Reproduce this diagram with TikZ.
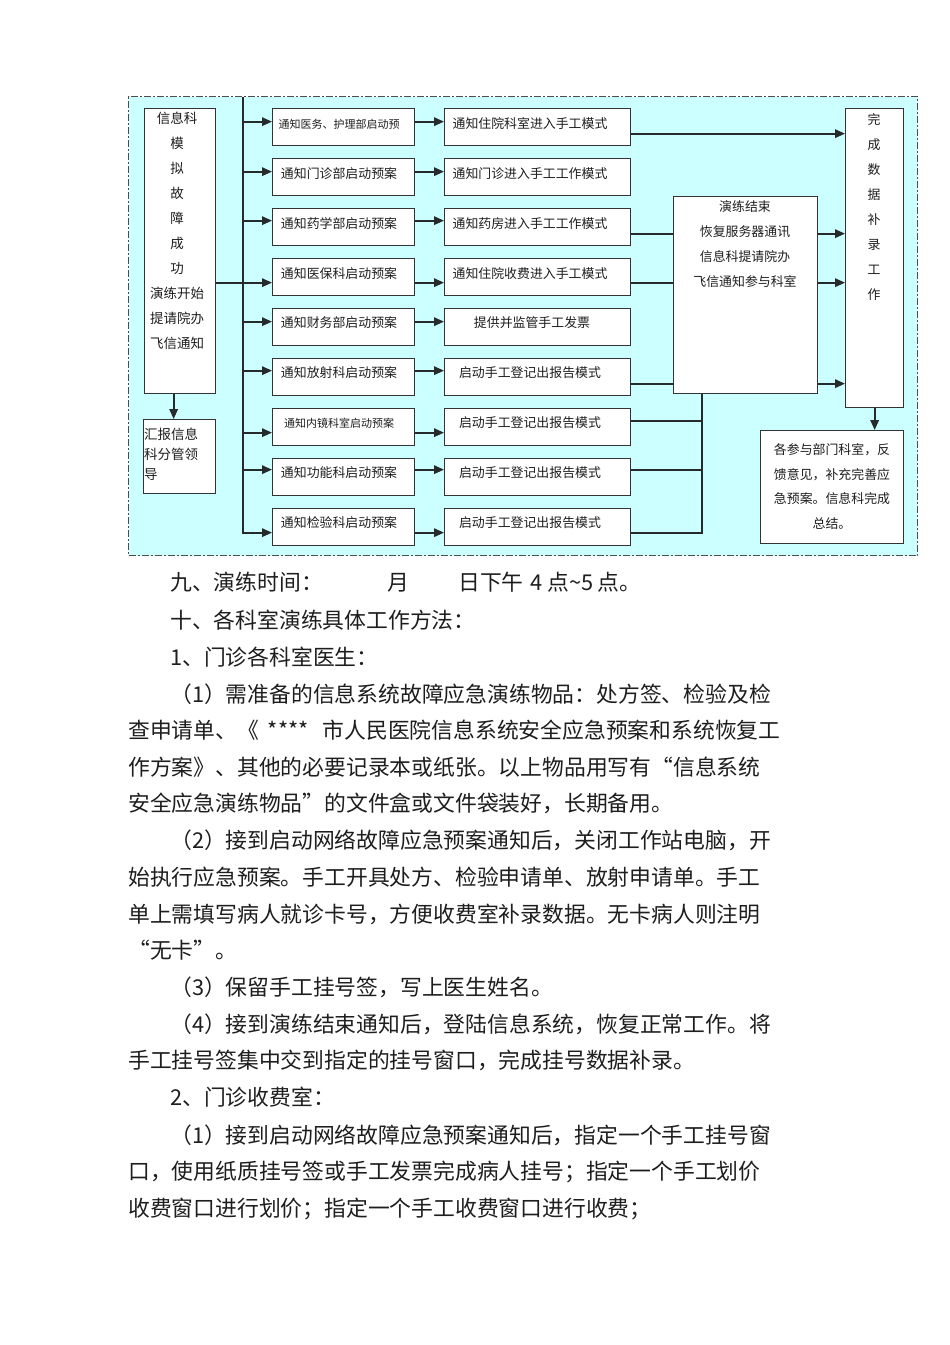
\documentclass[tikz,border=0pt]{standalone}
\usepackage{fontspec}
\setmainfont{Noto Sans CJK SC}
\usetikzlibrary{arrows.meta,calc}
\definecolor{frameC}{RGB}{204,255,255}
\definecolor{lineC}{RGB}{38,42,42}
\definecolor{txtC}{RGB}{30,30,30}
\begin{document}
\begin{tikzpicture}[x=1pt,y=-1pt,
  box/.style={draw=black!80, line width=1.3pt, fill=white, inner sep=0pt, anchor=north west},
  ft/.style={inner sep=0pt, text=txtC, font=\fontsize{12.9}{14}\selectfont, text height=11.35pt, text depth=1.55pt},
  ftsmall/.style={inner sep=0pt, text=txtC, font=\fontsize{11}{12}\selectfont, text height=9.7pt, text depth=1.3pt},
  ftbig/.style={inner sep=0pt, text=txtC, font=\fontsize{13.5}{15}\selectfont, text height=11.9pt, text depth=1.6pt},
  ln/.style={draw=lineC, line width=1.7pt},
  arr/.style={ln, -{Triangle[length=10pt,width=8.5pt]}},
  body/.style={anchor=west, inner sep=0pt, text=txtC, font=\fontsize{21.8}{24}\selectfont, text height=19.2pt, text depth=2.6pt}
]
\useasboundingbox (0,0) rectangle (950,1345);
\fill[white] (0,0) rectangle (950,1345);

% frame
\node[draw=black!70, fill=frameC, line width=1.1pt, dash pattern=on 7pt off 2pt on 2pt off 2pt,
      minimum width=789pt, minimum height=459pt, inner sep=0pt, anchor=north west] (frame) at (128,96) {};

% source box
\node[box, minimum width=71pt, minimum height=285pt] (src) at (144,108) {};
\foreach \t [count=\i] in {信息科,模,拟,故,障,成,功,演练开始,提请院办,飞信通知}
  \node[ftbig] (st\i) at (177,{118+25*(\i-1)}) {\t};

% report box
\node[box, minimum width=72pt, minimum height=74pt] (rep) at (143,419) {};
\node[ftbig, anchor=west] (rt1) at (144,434) {汇报信息};
\node[ftbig, anchor=west] (rt2) at (144,454) {科分管领};
\node[ftbig, anchor=west] (rt3) at (144,474) {导};

% rows
\foreach \i in {1,...,9} {
  \node[box, minimum width=142pt, minimum height=37pt] (L\i) at (272,{108+50*(\i-1)}) {};
  \node[box, minimum width=186pt, minimum height=37pt] (R\i) at (444,{108+50*(\i-1)}) {};
}
\node[ftsmall] (lt1) at (339,124) {通知医务、护理部启动预};
\node[ft] (lt2) at (339,174) {通知门诊部启动预案};
\node[ft] (lt3) at (339,224) {通知药学部启动预案};
\node[ft] (lt4) at (339,274) {通知医保科启动预案};
\node[ft] (lt5) at (339,323) {通知财务部启动预案};
\node[ft] (lt6) at (339,373) {通知放射科启动预案};
\node[ftsmall] (lt7) at (339,423) {通知内镜科室启动预案};
\node[ft] (lt8) at (339,473) {通知功能科启动预案};
\node[ft] (lt9) at (339,523) {通知检验科启动预案};

\node[ft] (rt1) at (530,124) {通知住院科室进入手工模式};
\node[ft] (rt2) at (530,174) {通知门诊进入手工工作模式};
\node[ft] (rt3) at (530,224) {通知药房进入手工工作模式};
\node[ft] (rt4) at (530,274) {通知住院收费进入手工模式};
\node[ft] (rt5) at (532,323) {提供并监管手工发票};
\node[ft] (rt6) at (530,373) {启动手工登记出报告模式};
\node[ft] (rt7) at (530,423) {启动手工登记出报告模式};
\node[ft] (rt8) at (530,473) {启动手工登记出报告模式};
\node[ft] (rt9) at (530,523) {启动手工登记出报告模式};

% end box
\node[box, minimum width=144pt, minimum height=197pt] (endb) at (673,196) {};
\foreach \t [count=\i] in {演练结束,恢复服务器通讯,信息科提请院办,飞信通知参与科室}
  \node[ft] (et\i) at (745,{207+25*(\i-1)}) {\t};

% done box
\node[box, minimum width=58pt, minimum height=299pt] (done) at (845,108) {};
\foreach \t [count=\i] in {完,成,数,据,补,录,工,作}
  \node[ft] (dt\i) at (874,{120+24.9*(\i-1)}) {\t};

% final box
\node[box, minimum width=143pt, minimum height=113pt] (final) at (760,430) {};
\foreach \t [count=\i] in {各参与部门科室，反,馈意见，补充完善应,急预案。信息科完成,总结。}
  \node[ft] (ft\i) at (832,{450+24.4*(\i-1)}) {\t};

% connectors
\coordinate (busTop) at (243,97);
\foreach \i/\d in {1/-5.5,2/-5.5,3/-6.5,4/5.5,5/-5.5,6/-6.5,7/5.5,8/-7.5,9/5.5}
  \coordinate (a\i) at ($(L\i.west)+(0,\d)$);
\foreach \i/\d in {1/6.5,3/6.5,4/5.5,6/6.5,7/-6.5,8/-7.5,9/5.5}
  \coordinate (o\i) at ($(R\i.east)+(0,\d)$);

\draw[arr] (busTop) -- (busTop |- a9) -- (a9);
\foreach \i in {1,...,8}
  \draw[arr] (busTop |- a\i) -- (a\i);
\foreach \i in {1,...,9}
  \draw[arr] (L\i.east |- a\i) -- (R\i.west |- a\i);
\draw[ln] (src.east |- a4) -- (busTop |- a4);
\draw[arr] ($(src.south)+(-6.5,0)$) coordinate (sd) -- (sd |- rep.north);

\draw[arr] (o1) -- (done.west |- o1);
\foreach \i in {3,4,6} {
  \draw[ln] (o\i) -- (endb.west |- o\i);
  \draw[arr] (endb.east |- o\i) -- (done.west |- o\i);
}
\coordinate (tap) at ($(endb.south west)+(29,0)$);
\draw[ln] (tap) -- (tap |- o9) -- (o9);
\draw[ln] (o7) -- (tap |- o7);
\draw[ln] (o8) -- (tap |- o8);
\draw[arr] (done.south) -- (done.south |- final.north);

% body text
\node[body] (b1) at (170,582) {九、演练时间：\hspace{65pt}月\hspace{48.6pt}日下午\hspace{7pt}4\hspace{5pt}点\string~5\hspace{4pt}点。};
\node[body] (b2) at (170,620) {十、各科室演练具体工作方法：};
\node[body] (b3) at (170,657) {1、门诊各科室医生：};
\node[body] (b4) at (170,694) {（1）需准备的信息系统故障应急演练物品：处方签、检验及检};
\node[body] (b5) at (128,730) {查申请单、《\hspace{9pt}****\hspace{14pt}市人民医院信息系统安全应急预案和系统恢复工};
\node[body] (b6) at (128,767) {作方案》、其他的必要记录本或纸张。以上物品用写有“信息系统};
\node[body] (b7) at (128,803) {安全应急演练物品”的文件盒或文件袋装好，长期备用。};
\node[body] (b8) at (170,840) {（2）接到启动网络故障应急预案通知后，关闭工作站电脑，开};
\node[body] (b9) at (128,877) {始执行应急预案。手工开具处方、检验申请单、放射申请单。手工};
\node[body] (b10) at (128,914) {单上需填写病人就诊卡号，方便收费室补录数据。无卡病人则注明};
\node[body] (b11) at (128,950) {“无卡”。};
\node[body] (b12) at (170,987) {（3）保留手工挂号签，写上医生姓名。};
\node[body] (b13) at (170,1024) {（4）接到演练结束通知后，登陆信息系统，恢复正常工作。将};
\node[body] (b14) at (128,1060) {手工挂号签集中交到指定的挂号窗口，完成挂号数据补录。};
\node[body] (b15) at (170,1097) {2、门诊收费室：};
\node[body] (b16) at (170,1135) {（1）接到启动网络故障应急预案通知后，指定一个手工挂号窗};
\node[body] (b17) at (128,1171) {口，使用纸质挂号签或手工发票完成病人挂号；指定一个手工划价};
\node[body] (b18) at (128,1208) {收费窗口进行划价；指定一个手工收费窗口进行收费；};
\end{tikzpicture}
\end{document}
